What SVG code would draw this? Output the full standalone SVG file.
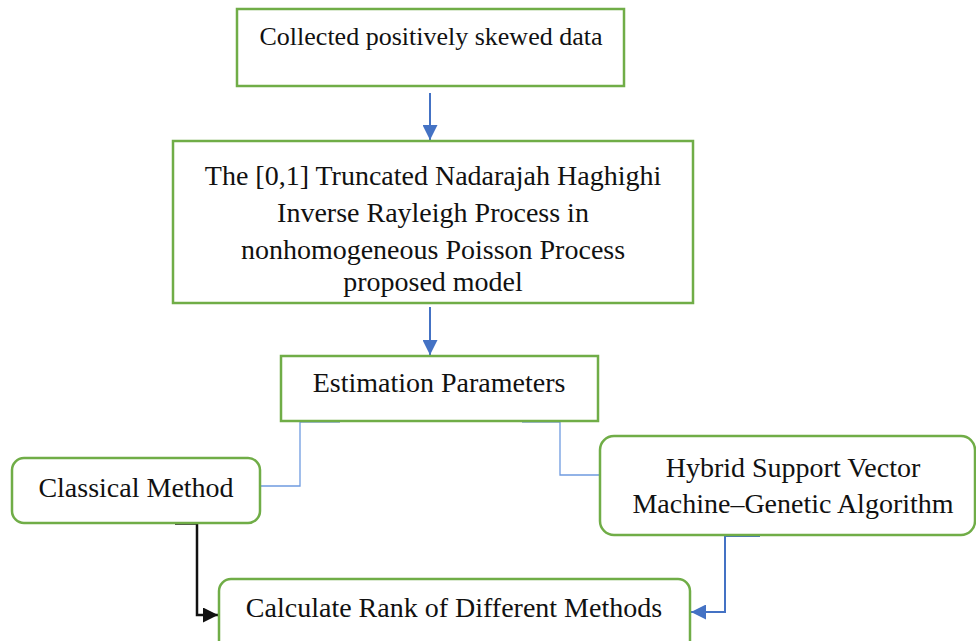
<svg xmlns="http://www.w3.org/2000/svg" width="976" height="641" viewBox="0 0 976 641">
<style>
.box{fill:#fff;stroke:#70AD47;stroke-width:2.5}
.t{font-family:"Liberation Serif","Times New Roman",serif;font-size:28px;fill:#111;text-anchor:middle}
.blue{fill:none;stroke:#4472C4;stroke-width:2}
.thin{fill:none;stroke:#6F9BE0;stroke-width:1.3}
.black{fill:none;stroke:#111;stroke-width:2.5}
</style>
<defs>
<marker id="ab" viewBox="0 0 10 10" refX="10" refY="5" markerWidth="15" markerHeight="15" markerUnits="userSpaceOnUse" orient="auto"><path d="M0,0 L10,5 L0,10 z" fill="#4472C4"/></marker>
<marker id="ak" viewBox="0 0 10 10" refX="10" refY="5" markerWidth="15" markerHeight="15" markerUnits="userSpaceOnUse" orient="auto"><path d="M0,0 L10,5 L0,10 z" fill="#111"/></marker>
</defs>
<rect width="976" height="641" fill="#fff"/>
<g id="connectors">
<line class="blue" x1="430" y1="93" x2="430" y2="140" marker-end="url(#ab)"/>
<line class="blue" x1="430" y1="307" x2="430" y2="355" marker-end="url(#ab)"/>
<line class="blue" x1="300" y1="421.5" x2="340" y2="421.5"/>
<polyline class="thin" points="300,422 300,486 261,486"/>
<line class="blue" x1="522" y1="421.5" x2="560" y2="421.5"/>
<polyline class="thin" points="560,422 560,475 600,475"/>
<polyline class="black" points="175,523.5 197,523.5 197,615 218,615" marker-end="url(#ak)"/>
<line class="blue" x1="725" y1="536" x2="760" y2="536"/>
<polyline class="blue" points="725,536 725,612 691,612" marker-end="url(#ab)"/>
</g>
<g id="n1">
<rect class="box" x="237" y="9" width="387" height="77"/>
<text class="t" x="431" y="45" style="font-size:26px">Collected positively skewed data</text>
</g>
<g id="n2">
<rect class="box" x="173" y="141" width="520" height="162"/>
<text class="t" x="433" y="185">The [0,1] Truncated Nadarajah Haghighi</text>
<text class="t" x="433" y="222">Inverse Rayleigh Process in</text>
<text class="t" x="433" y="259">nonhomogeneous Poisson Process</text>
<text class="t" x="433" y="291">proposed model</text>
</g>
<g id="n3">
<rect class="box" x="281" y="356" width="317" height="65"/>
<text class="t" x="439" y="392">Estimation Parameters</text>
</g>
<g id="n4">
<rect class="box" x="12" y="458" width="248" height="65" rx="12"/>
<text class="t" x="136" y="497">Classical Method</text>
</g>
<g id="n5">
<rect class="box" x="600" y="436" width="375" height="99" rx="14"/>
<text class="t" x="793" y="477">Hybrid Support Vector</text>
<text class="t" x="793" y="513">Machine–Genetic Algorithm</text>
</g>
<g id="n6">
<rect class="box" x="219" y="579" width="471" height="75" rx="12"/>
<text class="t" x="454" y="617">Calculate Rank of Different Methods</text>
</g>
</svg>
